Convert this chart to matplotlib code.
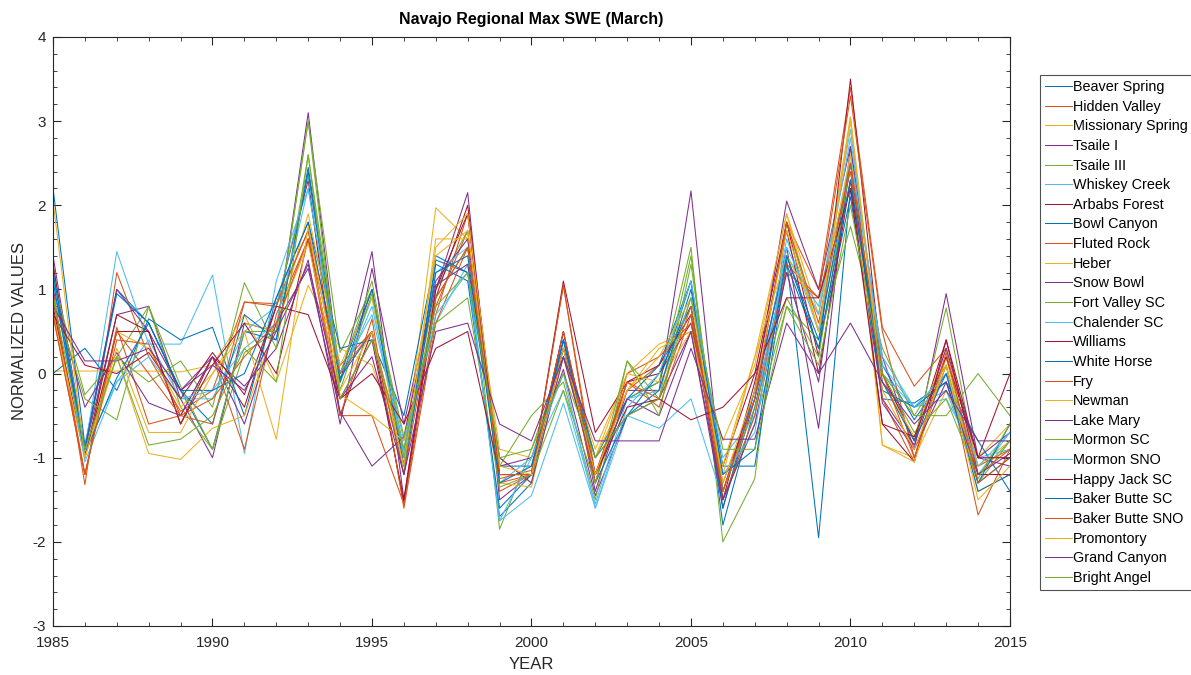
import matplotlib
matplotlib.use('Agg')
import matplotlib.pyplot as plt
from matplotlib.ticker import MultipleLocator

plt.rcParams['font.family'] = ['Liberation Sans', 'DejaVu Sans']
plt.rcParams['axes.unicode_minus'] = False

years = list(range(1985, 2016))

station_names = ['Beaver Spring', 'Hidden Valley', 'Missionary Spring', 'Tsaile I', 'Tsaile III',
                 'Whiskey Creek', 'Arbabs Forest', 'Bowl Canyon', 'Fluted Rock', 'Heber',
                 'Snow Bowl', 'Fort Valley SC', 'Chalender SC', 'Williams', 'White Horse',
                 'Fry', 'Newman', 'Lake Mary', 'Mormon SC', 'Mormon SNO', 'Happy Jack SC',
                 'Baker Butte SC', 'Baker Butte SNO', 'Promontory', 'Grand Canyon', 'Bright Angel']

# normalized max SWE per station, 1985-2015
beaver_spring = [2.2, -0.85, 1.0, 0.6, -0.2, -0.9, 0.5, 0.4, 2.45, 0.0, 1.0, -1.1, 1.35, 1.2, -1.7, -1.3, 0.4, -1.2, -0.3, -0.1, 1.1, -1.8, -0.4, 1.35, -1.95, 2.2, 0.1, -0.55, 0.0, -1.3, -1.0]
hidden_valley = [1.0, -1.32, 1.2, 0.2, -0.45, -0.2, 0.85, 0.83, 1.7, 0.1, 0.5, -1.0, 0.8, 1.7, -1.3, -1.2, 1.05, -1.2, -0.2, 0.1, 0.8, -1.3, -0.3, 1.8, 1.0, 3.4, 0.55, -0.15, 0.3, -1.1, -0.9]
missionary_spring = [0.03, 0.03, 0.03, 0.03, 0.02, 0.1, 0.7, -0.1, 1.05, 0.3, 0.1, -1.0, 1.97, 1.6, -0.9, -1.0, 0.3, -0.9, 0.0, 0.35, 0.5, -0.8, 0.1, 1.9, 0.7, 3.05, -0.85, -1.0, -0.2, -1.0, -0.6]
tsaile_1 = [1.4, -0.9, 0.7, 0.8, -0.3, -1.0, 0.6, 0.5, 3.1, -0.1, 1.45, -1.5, 1.0, 2.15, -1.5, -1.2, 0.5, -1.4, -0.2, -0.2, 2.17, -1.4, -0.2, 2.05, 1.0, 2.7, 0.2, -0.9, 0.95, -1.0, -0.7]
tsaile_3 = [1.3, -0.9, 0.2, 0.8, -0.4, -0.9, 0.25, 0.5, 3.0, 0.25, 1.0, -0.9, 1.0, 1.7, -1.85, -0.9, 0.2, -1.2, -0.3, -0.1, 1.5, -2.0, -1.25, 1.8, 0.5, 2.3, 0.0, -0.8, 0.78, -1.2, -0.8]
whiskey_creek = [1.25, -0.9, 1.45, 0.35, 0.35, 1.17, -0.95, 1.1, 2.2, -0.1, 0.9, -0.8, 0.6, 1.3, -1.75, -1.45, -0.35, -1.6, -0.5, -0.65, -0.3, -1.5, -0.5, 1.4, 0.8, 2.9, 0.0, -0.4, -0.3, -1.0, -0.9]
arbabs_forest = [1.3, -1.0, 0.7, 0.5, -0.6, 0.2, -0.4, 0.8, 2.3, -0.5, 0.5, -1.55, 0.9, 2.0, -1.2, -1.2, 1.1, -0.7, -0.1, 0.0, 0.6, -1.1, 0.0, 1.8, 0.2, 3.5, 0.0, -0.8, 0.4, -1.0, 0.0]
bowl_canyon = [0.0, 0.3, -0.2, 0.65, 0.4, 0.55, -0.5, 0.9, 1.8, 0.3, 0.4, -0.5, 1.4, 1.2, -1.1, -1.1, 0.4, -1.0, -0.3, 0.1, 1.1, -1.1, -1.1, 1.3, 0.3, 2.1, -0.3, -0.35, -0.1, -0.8, -1.4]
fluted_rock = [0.7, -1.2, 0.55, -0.6, -0.5, 0.2, -0.9, 0.7, 1.6, -0.5, -0.5, -1.55, 0.7, 1.9, -1.4, -1.2, 1.05, -1.3, 0.0, 0.2, 0.6, -1.4, -0.3, 1.2, 0.9, 3.3, 0.5, -1.0, 0.1, -1.68, -0.9]
heber = [0.75, -1.0, 0.5, 0.3, -0.4, 0.0, 0.6, 0.5, 1.9, 0.1, 0.9, -1.2, 1.6, 1.6, -1.0, -1.3, 0.2, -1.0, -0.2, 0.3, 0.5, -1.2, 0.2, 1.9, 0.5, 3.05, -0.1, -0.75, 0.3, -1.1, -0.8]
snow_bowl = [1.2, -0.9, 1.0, 0.5, -0.2, 0.2, -0.15, 0.3, 1.35, -0.6, 1.25, -0.6, 1.1, 1.6, -1.1, -1.0, 0.05, -1.45, -0.5, -0.3, 0.5, -1.6, -0.3, 1.5, -0.65, 2.7, -0.3, -0.85, 0.3, -1.0, -1.1]
fort_valley_sc = [1.1, -0.25, 0.2, -0.1, 0.15, -0.4, 1.08, 0.3, 2.6, 0.0, 1.1, -1.0, 0.9, 1.5, -1.1, -0.5, -0.1, -1.5, 0.15, -0.3, 1.4, -1.5, -0.6, 0.8, 0.4, 1.75, 0.3, -0.5, 0.1, -1.3, -0.8]
chalender_sc = [1.2, -0.9, -0.1, 0.4, -0.3, -0.3, 0.5, 0.8, 2.35, -0.1, 0.8, -0.95, 1.2, 1.5, -1.3, -1.0, -0.2, -1.55, -0.3, -0.2, 0.9, -1.0, -0.5, 1.6, 0.5, 2.6, 0.2, -0.4, -0.2, -1.2, -0.7]
williams = [0.8, -1.0, 0.5, 0.5, -0.6, 0.1, 0.6, 0.0, 1.6, -0.3, 0.4, -1.5, 1.0, 1.9, -1.2, -1.2, 0.5, -1.2, -0.1, 0.1, 0.7, -1.5, -0.1, 1.7, 0.0, 2.3, -0.6, -1.05, 0.4, -1.2, -1.2]
white_horse = [1.2, -0.9, 0.95, 0.6, -0.2, -0.6, 0.7, 0.4, 2.4, -0.1, 1.0, -1.1, 1.3, 1.1, -1.6, -1.2, 0.4, -1.3, -0.5, 0.0, 0.8, -1.6, -0.2, 1.4, 0.4, 2.5, -0.2, -0.4, -0.1, -1.3, -0.6]
fry = [0.9, -1.2, 0.5, 0.0, -0.5, -0.6, 0.85, 0.8, 1.7, -0.5, 0.65, -1.6, 0.6, 1.5, -1.25, -1.15, 0.3, -1.3, -0.1, -0.4, 0.7, -1.5, -0.5, 1.3, 0.9, 2.4, -0.3, -1.05, 0.2, -1.2, -0.9]
newman = [0.7, -1.0, 0.2, -0.95, -1.02, -0.65, -0.5, 0.6, 1.55, -0.25, -0.5, -0.8, 1.4, 1.7, -1.3, -1.35, 0.3, -1.0, 0.0, -0.1, 0.5, -1.1, 0.2, 1.4, 0.7, 2.6, -0.85, -1.05, 0.2, -1.4, -1.2]
lake_mary = [1.0, -0.4, 0.25, -0.35, -0.5, 0.2, -0.6, 0.6, 1.25, -0.45, -1.1, -0.75, 1.05, 1.3, -1.0, -1.3, 0.2, -1.2, -0.3, -0.5, 0.5, -1.5, -0.6, 1.2, -0.1, 2.5, -0.35, -0.9, -0.1, -1.2, -0.95]
mormon_sc = [0.9, -0.3, -0.55, 0.8, -0.15, -0.9, 0.5, 0.5, 3.0, -0.2, 0.95, -0.75, 0.6, 0.9, -1.35, -1.2, -0.2, -1.3, 0.15, -0.5, 1.3, -1.4, -0.4, 0.9, 0.2, 2.5, 0.0, -0.7, -0.3, -1.25, -0.6]
mormon_sno = [1.1, -1.05, -0.1, 0.2, -0.3, -0.2, 0.3, 0.6, 2.2, 0.0, 0.7, -0.9, 0.7, 1.2, -1.75, -1.0, 0.0, -1.6, -0.4, 0.0, 1.1, -1.2, -0.7, 1.5, 0.7, 2.8, 0.1, -0.4, 0.0, -1.1, -0.7]
happy_jack_sc = [0.7, 0.1, 0.0, 0.25, -0.3, 0.25, -0.25, 0.8, 0.7, -0.3, 0.0, -0.6, 0.3, 0.5, -1.2, -1.2, 0.3, -1.2, -0.4, -0.3, -0.55, -0.4, 0.0, 0.9, 0.9, 2.2, -0.6, -0.75, 0.2, -1.0, -1.0]
baker_butte_sc = [1.1, -0.95, -0.05, 0.6, -0.2, -0.2, 0.0, 0.9, 1.8, -0.05, 0.5, -1.2, 1.2, 1.4, -1.3, -1.1, 0.3, -1.0, -0.5, -0.2, 1.0, -1.2, -0.9, 1.4, 0.3, 2.3, -0.1, -0.8, 0.0, -1.4, -1.2]
baker_butte_sno = [0.7, -1.2, 0.4, 0.35, -0.5, -0.3, 0.2, 0.6, 1.6, 0.0, 0.5, -1.2, 0.9, 1.5, -1.2, -1.2, 0.5, -1.2, -0.1, -0.3, 0.8, -1.4, -0.3, 1.8, 0.6, 2.5, 0.0, -1.0, 0.25, -1.3, -1.0]
promontory = [2.05, -1.0, 0.3, -0.7, -0.7, 0.0, 0.5, -0.78, 1.75, -0.2, 0.5, -1.1, 1.5, 1.9, -1.1, -1.2, 0.3, -1.2, -0.2, 0.2, 0.9, -1.3, -0.2, 1.7, 0.5, 3.0, -0.2, -0.9, 0.1, -1.5, -1.1]
grand_canyon = [0.8, 0.15, 0.15, 0.3, -0.2, 0.1, -0.2, 0.5, 1.3, -0.3, 0.2, -1.2, 0.5, 0.6, -0.6, -0.8, 0.2, -0.8, -0.8, -0.8, 0.3, -0.78, -0.78, 0.6, 0.0, 0.6, -0.1, -0.6, -0.2, -0.8, -0.8]
bright_angel = [0.9, -0.9, 0.2, -0.85, -0.78, -0.5, 0.3, -0.1, 2.6, -0.3, 0.4, -0.9, 0.8, 1.2, -1.0, -0.9, 0.0, -1.0, -0.5, -0.3, 0.9, -0.9, -0.9, 0.8, 0.1, 2.0, 0.0, -0.5, -0.5, 0.0, -0.5]

series = [beaver_spring, hidden_valley, missionary_spring, tsaile_1, tsaile_3, whiskey_creek,
          arbabs_forest, bowl_canyon, fluted_rock, heber, snow_bowl, fort_valley_sc, chalender_sc,
          williams, white_horse, fry, newman, lake_mary, mormon_sc, mormon_sno, happy_jack_sc,
          baker_butte_sc, baker_butte_sno, promontory, grand_canyon, bright_angel]

# MATLAB default line colours
colors = ['#0072BD', '#D95319', '#EDB120', '#7E2F8E', '#77AC30', '#4DBEEE', '#A2142F']
axis_gray = '#262626'

fig = plt.figure(figsize=(11.91, 6.75), dpi=100)
ax = fig.add_axes([0.0445, 0.0726, 0.8035, 0.8726])

for i, (name, vals) in enumerate(zip(station_names, series)):
    ax.plot(years, vals, color=colors[i % 7], lw=0.75, label=name)

ax.set_xlim(1985, 2015)
ax.set_ylim(-3, 4)
ax.xaxis.set_major_locator(MultipleLocator(5))
ax.xaxis.set_minor_locator(MultipleLocator(1))
ax.yaxis.set_major_locator(MultipleLocator(1))
ax.yaxis.set_minor_locator(MultipleLocator(0.2))
ax.tick_params(which='both', direction='in', top=True, right=True, colors=axis_gray,
               labelsize=11)
ax.tick_params(which='major', length=6)
ax.tick_params(which='minor', length=3)
ax.tick_params(axis='x', which='major', pad=7)
ax.tick_params(axis='y', which='major', pad=5)
for s in ax.spines.values():
    s.set_color(axis_gray)
    s.set_linewidth(0.8)

ax.set_title('Navajo Regional Max SWE (March)', fontsize=11.5, fontweight='bold', pad=9)
ax.set_xlabel('YEAR', fontsize=12, color=axis_gray, labelpad=5)
ax.set_ylabel('NORMALIZED VALUES', fontsize=12, color=axis_gray, labelpad=4)

leg = fig.legend(loc='upper left', bbox_to_anchor=(1040 / 1191, 1 - 75 / 675),
                 fontsize=10.4, frameon=True, fancybox=False, edgecolor=axis_gray,
                 labelspacing=0.39, handlelength=1.85, handletextpad=0.1,
                 borderpad=0.35, borderaxespad=0)
leg.get_frame().set_linewidth(0.8)

fig.savefig('out.png', dpi=100)
